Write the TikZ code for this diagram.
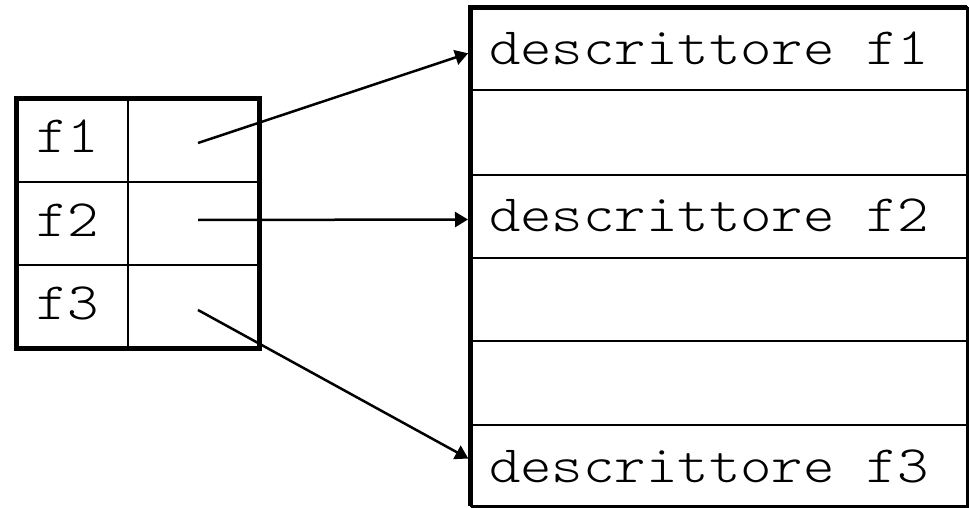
\documentclass[tikz,border=0pt]{standalone}
\usepackage{fontspec}
\newfontfamily\cour{lmmonolt10-regular.otf}[FakeStretch=1.14]
\usetikzlibrary{arrows.meta}
\begin{document}
\begin{tikzpicture}[x=1pt,y=-1pt,
 cell/.style={draw,line width=2pt,inner sep=0pt,outer sep=0pt,anchor=north west},
 lcell/.style={cell,minimum height=83pt},
 rcell/.style={cell,minimum width=496.5pt},
 lbl/.style={font=\cour\fontsize{52.5}{60}\selectfont,anchor=base,inner sep=0pt},
 border/.style={line width=5pt},
 rborder/.style={line width=3pt},
 conn/.style={line width=2.5pt,-{Triangle[length=13pt,width=15pt]},shorten >=2.5pt}]
\useasboundingbox (0,0) rectangle (969,508);
% left table
\node[lcell,minimum width=112pt] (a1) at (16,99) {};
\node[lcell,minimum width=131pt] (b1) at (128,99) {};
\node[lcell,minimum width=112pt] (a2) at (16,182) {};
\node[lcell,minimum width=131pt] (b2) at (128,182) {};
\node[lcell,minimum width=112pt] (a3) at (16,265) {};
\node[lcell,minimum width=131pt] (b3) at (128,265) {};
\draw[border] (a1.north west) rectangle (b3.south east);
\node[lbl] (f1) at (67.5,153) {f1};
\node[lbl] (f2) at (67.5,236) {f2};
\node[lbl] (f3) at (67.5,319) {f3};
% right table
\node[rcell,minimum height=83pt] (R1) at (470.5,7.5) {};
\node[rcell,minimum height=84pt] (R2) at (470.5,90.5) {};
\node[rcell,minimum height=83pt] (R3) at (470.5,174.5) {};
\node[rcell,minimum height=83.5pt] (R4) at (470.5,257.5) {};
\node[rcell,minimum height=83.5pt] (R5) at (470.5,341) {};
\node[rcell,minimum height=81.5pt] (R6) at (470.5,424.5) {};
\draw[border] (R6.south west) -- (R1.north west) -- (R1.north east);
\draw[rborder] (R1.north east) -- (R6.south east) -- (R6.south west);
\node[lbl] (d1) at (709,65) {descrittore f1};
\node[lbl] (d2) at (709,231) {descrittore f2};
\node[lbl] (d3) at (709,482) {descrittore f3};
% pointers
\coordinate (s1) at (198,143);
\coordinate (s2) at (198,220);
\coordinate (s3) at (198,310);
\draw[conn] (s1) -- ([yshift=-3.5pt]R1.west);
\draw[conn] (s2) -- ([yshift=-3.5pt]R3.west);
\draw[conn] (s3) -- ([yshift=5.5pt]R6.west);
\end{tikzpicture}
\end{document}
